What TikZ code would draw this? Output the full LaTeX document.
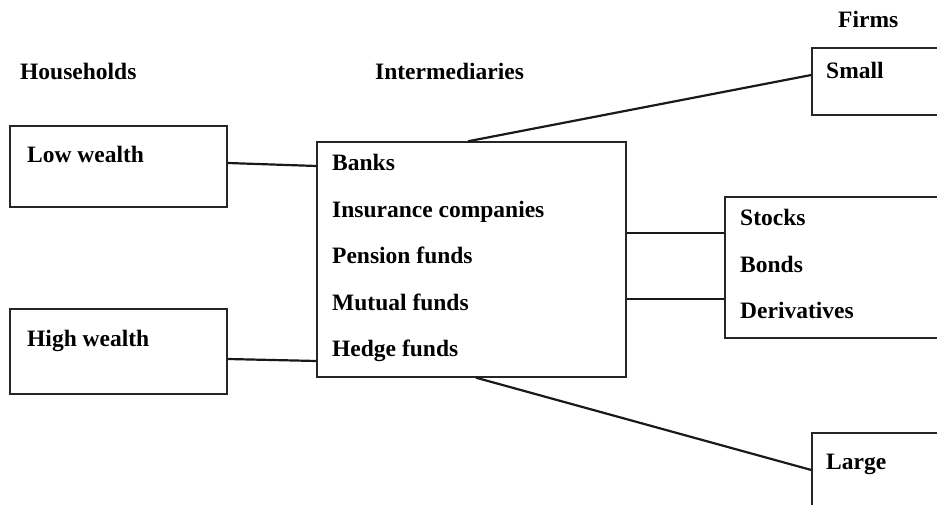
\documentclass[tikz,border=0pt]{standalone}
\usepackage{fontspec}
\setmainfont{Liberation Serif}
\usetikzlibrary{arrows.meta, positioning}

\begin{document}
\begin{tikzpicture}[x=1pt, y=1pt,
    box/.style={draw=black!85, line width=1.4pt, inner sep=0pt},
    txt/.style={font=\fontsize{23.5}{28}\selectfont\bfseries, inner sep=0pt, anchor=base west},
    link/.style={line width=2.2pt, black!90}]
    \useasboundingbox (0,0) rectangle (937,505);
    \clip (0,0) rectangle (937,505);

    % 三列标题
    \node[txt] (hh) at (20,425) {Households};
    \node[txt] (im) at (375,425) {Intermediaries};
    \node[txt] (fm) at (838,477) {Firms};

    % 住户
    \node[box, minimum width=217, minimum height=81] (low) at (118.5,338.5) {};
    \node[txt] (lowtxt) at (27,342) {Low wealth};
    \node[box, minimum width=217, minimum height=85] (high) at (118.5,153.5) {};
    \node[txt] (hightxt) at (27,158) {High wealth};

    % 中介机构
    \node[box, minimum width=309, minimum height=235] (int) at (471.5,245.5) {};
    \foreach \n/\t [count=\i from 0] in {bk/Banks, ins/Insurance companies, pf/Pension funds, mf/Mutual funds, hf/Hedge funds}
        \node[txt] (\n) at (332, 334.5-46.6*\i) {\t};

    % 证券
    \node[box, minimum width=240, minimum height=141] (sec) at (845,237.5) {};
    \foreach \n/\t [count=\i from 0] in {stk/Stocks, bnd/Bonds, der/Derivatives}
        \node[txt] (\n) at (740, 279-46.5*\i) {\t};

    % 企业
    \node[box, minimum width=150, minimum height=67] (small) at (887,423.5) {};
    \node[txt] (smalltxt) at (826,426) {Small};
    \node[box, minimum width=150, minimum height=92] (large) at (887,26) {};
    \node[txt] (largetxt) at (826,35) {Large};

    % 连线
    \draw[link] ([yshift=3.5pt]low.east) -- ([yshift=93.5pt]int.west);
    \draw[link] ([yshift=-7.5pt]high.east) -- ([yshift=-101.5pt]int.west);
    \draw[link] ([yshift=26.5pt]int.east) -- ([yshift=34.5pt]sec.west);
    \draw[link] ([yshift=-39.5pt]int.east) -- ([yshift=-31.5pt]sec.west);
    \draw[link] ([xshift=-3.5pt]int.north) -- ([yshift=6.5pt]small.west);
    \draw[link] ([xshift=4.5pt]int.south) -- ([yshift=9pt]large.west);
\end{tikzpicture}
\end{document}
